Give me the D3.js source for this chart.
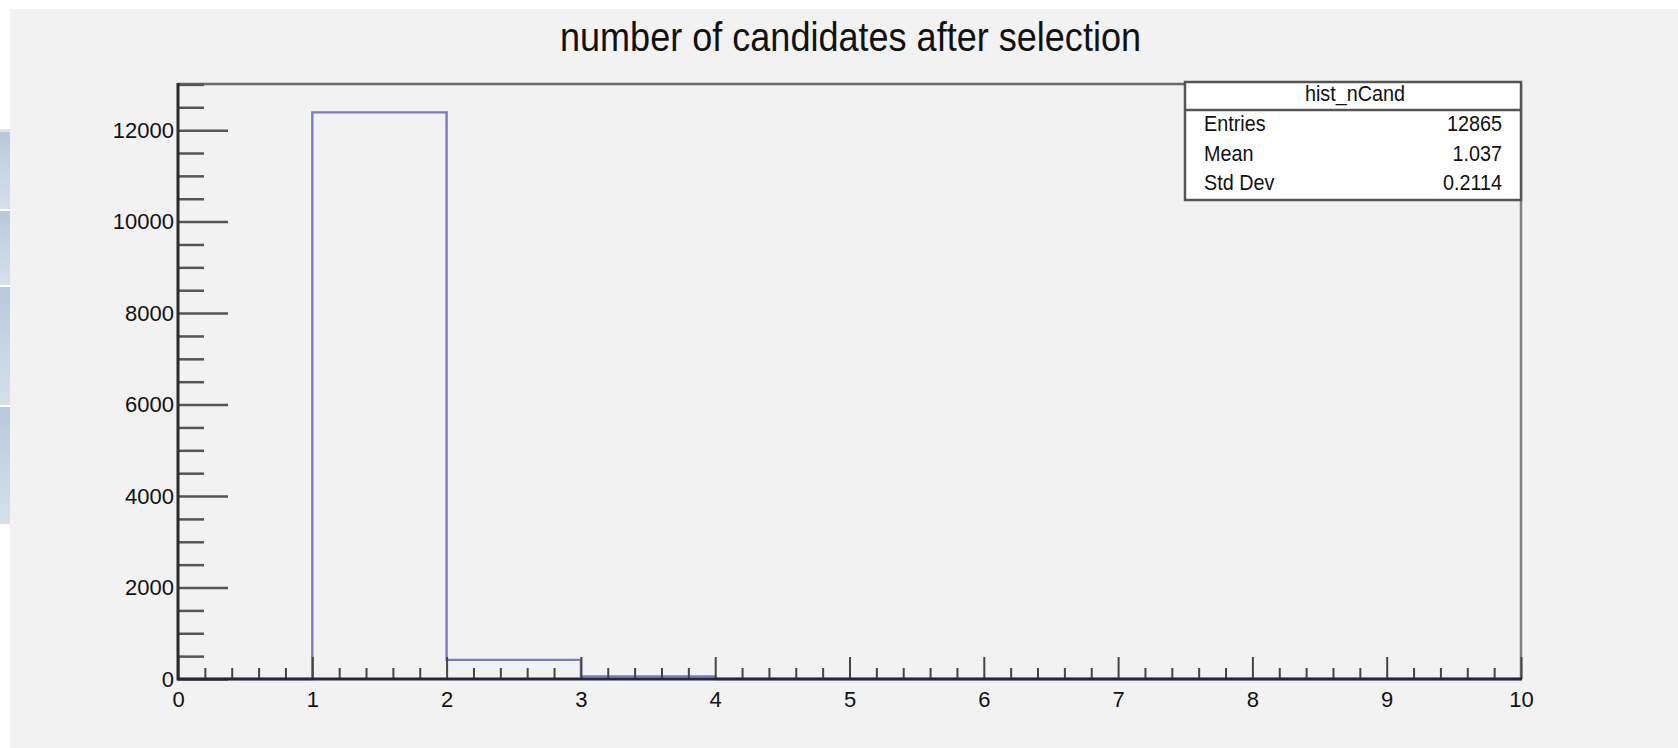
<!DOCTYPE html>
<html><head><meta charset="utf-8">
<script src="https://cdn.jsdelivr.net/npm/d3@7"></script>
<style>html,body{margin:0;padding:0;background:#fff;}svg{display:block;}text{font-family:"Liberation Sans",Arial,sans-serif;}</style>
</head><body>
<svg id="c" width="1678" height="748"></svg>
<script>
// ---- data ----
const title = "number of candidates after selection";
const histName = "hist_nCand";
const binEdges = [0,1,2,3,4,5,6,7,8,9,10];
const binCounts = [0,12389,418,58,0,0,0,0,0,0];
const xMajorTicks = [0,1,2,3,4,5,6,7,8,9,10];
const yMajorTicks = [0,2000,4000,6000,8000,10000,12000];
const statLabels = ["Entries","Mean","Std Dev"];
const statValues = ["12865","1.037","0.2114"];

const svg = d3.select("#c");
const W = 1678, H = 748;
const L = 178, R = 1521, T = 84, B = 679;

svg.append("rect").attr("width",W).attr("height",H).attr("fill","#fff");
svg.append("rect").attr("x",10).attr("y",9).attr("width",W-10).attr("height",H-9).attr("fill","#f2f2f2");

// left side bands
const defs = svg.append("defs");
const g = defs.append("linearGradient").attr("id","bandg").attr("x1",0).attr("y1",0).attr("x2",0).attr("y2",1);
g.append("stop").attr("offset","0%").attr("stop-color","#b8c9dd");
g.append("stop").attr("offset","100%").attr("stop-color","#d6e0eb");
const bands = [[132,209],[211,285],[287,405],[407,524]];
svg.append("rect").attr("x",0).attr("y",129).attr("width",10).attr("height",3).attr("fill","#dde4f0");
bands.forEach(b=>svg.append("rect").attr("x",0).attr("y",b[0]).attr("width",10).attr("height",b[1]-b[0]).attr("fill","url(#bandg)"));

const ymax = d3.max(binCounts)*1.05;
const x = d3.scaleLinear().domain([binEdges[0], binEdges[binEdges.length-1]]).range([L,R]);
const y = d3.scaleLinear().domain([0,ymax]).range([B,T]);

// title
svg.append("text").attr("x",560).attr("y",51).attr("textLength",581).attr("lengthAdjust","spacingAndGlyphs")
  .attr("font-size",41).attr("fill","#111").text(title);

// frame top/right
svg.append("line").attr("x1",L).attr("x2",R).attr("y1",T).attr("y2",T).attr("stroke","#6a6a6a").attr("stroke-width",2.5);
svg.append("line").attr("x1",R).attr("x2",R).attr("y1",T).attr("y2",B).attr("stroke","#808080").attr("stroke-width",2.5);

// histogram
const pts = binCounts.map((c,i)=>[binEdges[i],c]);
pts.push([binEdges[binEdges.length-1], binCounts[binCounts.length-1]]);
const line = d3.line().x(d=>x(d[0])).y(d=>y(d[1])).curve(d3.curveStepAfter);
svg.append("path").attr("d",line(pts)).attr("fill","none").attr("stroke","#7b7bc4").attr("stroke-width",2.4);

// x axis
const xMinor = d3.range(0,10.0001,0.2).filter(v=>Math.abs(v-Math.round(v))>1e-6);
const xa = svg.append("g").attr("transform",`translate(0,${B})`)
  .call(d3.axisBottom(x).tickValues(xMajorTicks).tickSize(-22).tickPadding(12).tickFormat(d3.format("d")));
xa.select(".domain").remove();
xa.selectAll(".tick line").attr("stroke","#444").attr("stroke-width",2);
xa.selectAll("text").attr("font-size",22).attr("fill","#111");
const xm = svg.append("g").attr("transform",`translate(0,${B})`)
  .call(d3.axisBottom(x).tickValues(xMinor).tickSize(-11).tickFormat(""));
xm.select(".domain").remove();
xm.selectAll(".tick line").attr("stroke","#444").attr("stroke-width",2);

// y axis
const yMinor = d3.range(500,13000.1,500).filter(v=>v%2000!==0 && v<=ymax);
const ya = svg.append("g").attr("transform",`translate(${L},0)`)
  .call(d3.axisLeft(y).tickValues(yMajorTicks).tickSize(-50).tickPadding(4).tickFormat(d3.format("d")));
ya.select(".domain").remove();
ya.selectAll(".tick line").attr("stroke","#555").attr("stroke-width",2.5);
ya.selectAll("text").attr("font-size",22).attr("fill","#111");
const ym = svg.append("g").attr("transform",`translate(${L},0)`)
  .call(d3.axisLeft(y).tickValues(yMinor).tickSize(-26).tickFormat(""));
ym.select(".domain").remove();
ym.selectAll(".tick line").attr("stroke","#555").attr("stroke-width",2.5);

// axis lines
svg.append("line").attr("x1",L).attr("x2",L).attr("y1",T-1).attr("y2",B+1.5).attr("stroke","#2a2a2a").attr("stroke-width",3);
svg.append("line").attr("x1",L).attr("x2",R+1).attr("y1",B).attr("y2",B).attr("stroke","#26263e").attr("stroke-width",3);

// stats box
const bx = 1185, by = 82, bw = R - 1185, bh = 118;
svg.append("rect").attr("x",bx).attr("y",by).attr("width",bw).attr("height",bh).attr("fill","#fff").attr("stroke","#555").attr("stroke-width",2.5);
svg.append("line").attr("x1",bx).attr("x2",bx+bw).attr("y1",110).attr("y2",110).attr("stroke","#555").attr("stroke-width",2.5);
svg.append("text").attr("transform",`translate(1355,101) scale(0.9,1)`).attr("text-anchor","middle")
  .attr("font-size",22).attr("fill","#111").text(histName);
const rowY = [131,161,190];
statLabels.forEach((s,i)=>{
  svg.append("text").attr("transform",`translate(1204,${rowY[i]}) scale(0.9,1)`).attr("font-size",22).attr("fill","#111").text(s);
  svg.append("text").attr("transform",`translate(1502,${rowY[i]}) scale(0.9,1)`).attr("text-anchor","end").attr("font-size",22).attr("fill","#111").text(statValues[i]);
});
</script>
</body></html>
